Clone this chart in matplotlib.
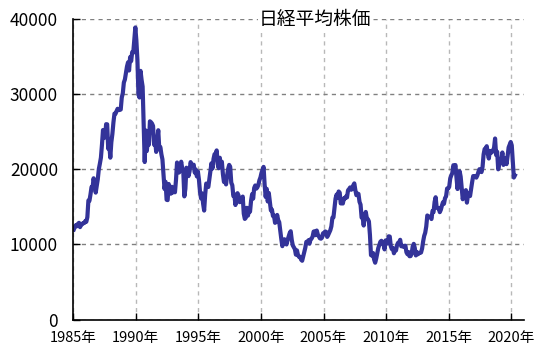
import numpy as np
import matplotlib
matplotlib.use("Agg")
from matplotlib import pyplot as plt

plt.rcParams['font.family'] = ['Noto Sans CJK JP', 'DejaVu Sans']

# 日経平均 月末終値 (1985年1月 - 2020年4月, 図から読み取り)
nikkei = [
    # 1985
    11992, 12322, 12580, 12426, 12758, 12882, 12310, 12650, 12700, 12860, 12850, 13113,
    # 1986
    13024, 13640, 15860, 15825, 16670, 17654, 17600, 18820, 17850, 16910, 17852, 18701,
    # 1987
    20048, 20767, 21566, 23274, 25250, 24176, 24488, 26029, 26011, 22765, 23329, 21564,
    # 1988
    23622, 24729, 26260, 27434, 27417, 27769, 28080, 27911, 27923, 27982, 29579, 30159,
    # 1989
    31581, 31985, 32839, 33713, 34266, 33183, 34954, 34431, 35637, 35549, 37269, 38916,
    # 1990
    37189, 34591, 29980, 29584, 33131, 31940, 31036, 25978, 20984, 25194, 22455, 23849,
    # 1991
    23293, 26409, 26292, 26111, 25790, 23291, 23900, 22336, 23916, 25222, 22688, 22984,
    # 1992
    22023, 21339, 19346, 17391, 18348, 15952, 15910, 18061, 17399, 16767, 17685, 16925,
    # 1993
    17024, 16953, 18591, 20919, 20552, 19590, 20380, 21027, 20106, 19703, 16408, 17417,
    # 1994
    20229, 19997, 19112, 19725, 20974, 20644, 20449, 20629, 19564, 19990, 19076, 19723,
    # 1995
    18650, 17053, 16140, 16807, 15437, 14517, 16678, 18117, 17913, 17655, 18744, 19868,
    # 1996
    20813, 20125, 21407, 22041, 21956, 22531, 20693, 20167, 21556, 20467, 21020, 19361,
    # 1997
    18330, 18557, 18003, 19151, 20069, 20605, 20331, 18229, 17888, 16459, 16636, 15259,
    # 1998
    16628, 16832, 16527, 15641, 15671, 15830, 16379, 14108, 13406, 13565, 14883, 13842,
    # 1999
    14499, 14368, 15837, 16702, 16112, 17530, 17862, 17437, 17605, 17942, 18558, 18934,
    # 2000
    19540, 19960, 20337, 17974, 16332, 17411, 15727, 16861, 15747, 14539, 14649, 13786,
    # 2001
    13843, 12883, 12999, 13934, 13262, 12969, 11861, 10713, 9775, 10366, 10697, 10543,
    # 2002
    9997, 10587, 11025, 11493, 11764, 10622, 9877, 9619, 9383, 8640, 9216, 8579,
    # 2003
    8340, 8363, 7973, 7831, 8425, 9083, 9563, 10344, 10219, 10560, 10101, 10677,
    # 2004
    10783, 11042, 11715, 11762, 11236, 11858, 11326, 11082, 10824, 10771, 10899, 11489,
    # 2005
    11388, 11740, 11668, 11009, 11277, 11584, 11900, 12414, 13574, 13607, 14872, 16111,
    # 2006
    16650, 16205, 17059, 16906, 15467, 15505, 15457, 16141, 16128, 16399, 16274, 17226,
    # 2007
    17383, 17604, 17288, 17400, 17876, 18138, 17249, 16569, 16786, 16738, 15680, 15308,
    # 2008
    13592, 13603, 12525, 13849, 14338, 13481, 13376, 13072, 11260, 8577, 8512, 8860,
    # 2009
    7994, 7568, 8109, 8828, 9523, 9958, 10357, 10493, 10133, 10034, 9345, 10546,
    # 2010
    10198, 10126, 11089, 11057, 9768, 9382, 9537, 8824, 9369, 9202, 9937, 10228,
    # 2011
    10237, 10624, 9755, 9849, 9693, 9816, 9833, 8955, 8700, 8988, 8434, 8455,
    # 2012
    8802, 9723, 10083, 9520, 8542, 9006, 8695, 8839, 8870, 8928, 9446, 10395,
    # 2013
    11138, 11559, 12397, 13861, 13774, 13677, 13668, 13388, 14455, 14327, 15661, 16291,
    # 2014
    14914, 14841, 14827, 14304, 14632, 15162, 15620, 15424, 16173, 16413, 17459, 17450,
    # 2015
    17674, 18797, 19206, 19520, 20563, 20235, 20585, 18890, 17388, 19083, 19747, 19033,
    # 2016
    17518, 16026, 16758, 16666, 17234, 15575, 16569, 16887, 16449, 17425, 18308, 19114,
    # 2017
    19041, 19118, 18909, 19196, 19650, 20033, 19925, 19646, 20356, 22011, 22724, 22764,
    # 2018
    23098, 22068, 21454, 22467, 22201, 22304, 22553, 22865, 24120, 21920, 22351, 20015,
    # 2019
    20773, 21385, 21205, 22258, 20601, 21275, 21521, 20704, 21755, 22927, 23293, 23656,
    # 2020
    23205, 21142, 18917, 19200,
]
start_year = 1985
tick_years = [1985, 1990, 1995, 2000, 2005, 2010, 2015, 2020]
y_ticks = [0, 10000, 20000, 30000, 40000]
title = "日経平均株価"

t = start_year + (np.arange(len(nikkei)) + 0.5) / 12

fig = plt.figure(figsize=(5.56, 3.58), dpi=100)
ax = fig.add_axes([0.1318, 0.1075, 0.8102, 0.8385])

ax.plot(t, nikkei, color="#333399", lw=3.0, solid_joinstyle="round")

ax.set_xlim(1985, 2021)
ax.set_ylim(0, 40000)
ax.set_xticks(tick_years)
ax.set_xticklabels([f"{y}年" for y in tick_years])
ax.set_yticks(y_ticks)
ax.set_yticklabels([str(v) for v in y_ticks])

ax.spines["top"].set_visible(False)
ax.spines["right"].set_visible(False)
for s in ["left", "bottom"]:
    ax.spines[s].set_linewidth(1.2)

ax.tick_params(axis="both", direction="in", length=5, width=1.0)
ax.tick_params(axis="y", pad=11, labelsize=12.5)
ax.tick_params(axis="x", pad=8, labelsize=10.5)

ax.grid(axis="y", color="#808080", ls=(0, (3, 3)), lw=1.0)
ax.grid(axis="x", color="#b8b8b8", ls=(0, (3, 3)), lw=1.0)
ax.set_axisbelow(True)

ax.text(0.537, 1.0, title, transform=ax.transAxes, ha="center", va="center",
        fontsize=13.5, bbox=dict(facecolor="white", edgecolor="none", pad=1))

fig.savefig("out.png", dpi=100)
